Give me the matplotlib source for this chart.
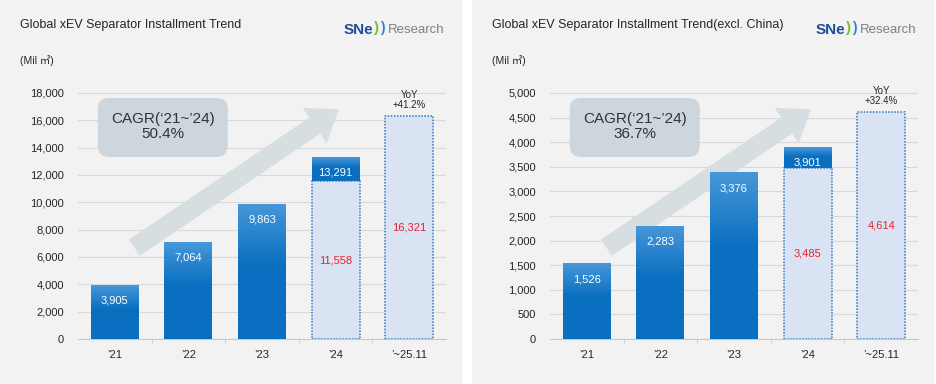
import matplotlib
matplotlib.use("Agg")
import matplotlib.pyplot as plt
import numpy as np
from matplotlib.colors import LinearSegmentedColormap
from matplotlib.patches import FancyArrowPatch, FancyBboxPatch, Rectangle

plt.rcParams["font.family"] = ["Liberation Sans", "Noto Sans CJK KR", "DejaVu Sans"]

categories = ["\u201921", "\u201922", "\u201923", "\u201924", "\u2019~25.11"]

# left panel: global
global_actual = [3905, 7064, 9863, 13291]
global_partial = [None, None, None, 11558, 16321]
global_yoy = "YoY\n+41.2%"
global_cagr = "CAGR(\u201821~\u201924)\n50.4%"
global_ticks = list(range(0, 18001, 2000))

# right panel: excluding China
exch_actual = [1526, 2283, 3376, 3901]
exch_partial = [None, None, None, 3485, 4614]
exch_yoy = "YoY\n+32.4%"
exch_cagr = "CAGR(\u201821~\u201924)\n36.7%"
exch_ticks = list(range(0, 5001, 500))

BLUE_DARK = "#0a6fc0"
BLUE_LIGHT = "#4797d9"
PARTIAL_FILL = "#dae3f4"
PARTIAL_EDGE = "#2f78c2"
RED = "#e3232c"
PANEL_BG = "#f2f2f2"
TEXT = "#262626"

grad_cmap = LinearSegmentedColormap.from_list(
    "bar", [(0.0, BLUE_DARK), (0.55, BLUE_DARK), (1.0, BLUE_LIGHT)])
grad = np.linspace(0, 1, 200).reshape(-1, 1)


def gradient_bar(ax, x, bottom, top, width):
    ax.imshow(grad, extent=[x - width / 2, x + width / 2, bottom, top],
              origin="lower", cmap=grad_cmap, aspect="auto", zorder=3,
              interpolation="bilinear")


def draw_panel(fig, px0, title, actual, partial, yoy, cagr, ticks):
    # panel background
    fig.patches.append(Rectangle((px0 / 936, 0), 461 / 936, 1,
                                 transform=fig.transFigure, color=PANEL_BG,
                                 zorder=-5))
    fig.text((px0 + 20) / 936, 1 - 25 / 384, title, fontsize=9, color=TEXT,
             va="center", ha="left")
    fig.text((px0 + 20) / 936, 1 - 60 / 384, "(Mil \u33a1)", fontsize=7.5,
             color=TEXT, va="center", ha="left")
    # logo
    fig.text((px0 + 344) / 936, 1 - 30 / 384, "SNe", fontsize=11,
             fontweight="bold", color="#1f4f9a", va="center", ha="left")
    fig.text((px0 + 374) / 936, 1 - 28 / 384, ")", fontsize=11,
             fontweight="bold", color="#7cc142", va="center", ha="left")
    fig.text((px0 + 380) / 936, 1 - 28 / 384, ")", fontsize=10,
             fontweight="bold", color="#2e86c8", va="center", ha="left")
    fig.text((px0 + 388) / 936, 1 - 30 / 384, "Research", fontsize=9.5,
             color="#808080", va="center", ha="left")

    ax = fig.add_axes([(px0 + 78) / 936, 45 / 384, 368 / 936, 246 / 384])
    ax.set_facecolor("none")
    ymax = ticks[-1]
    x = np.arange(len(categories))
    w = 0.65

    # partial-year (dotted) bars
    for i, v in enumerate(partial):
        if v is None:
            continue
        ax.bar(x[i], v, width=w, color=PARTIAL_FILL, edgecolor=PARTIAL_EDGE,
               linestyle=(0, (1, 1)), linewidth=1.1, zorder=3)
        ax.text(x[i], v / 2, f"{v:,}", color=RED, fontsize=8,
                ha="center", va="center", zorder=5)

    # full-year gradient bars
    for i, v in enumerate(actual):
        bottom = partial[i] if partial[i] is not None else 0
        gradient_bar(ax, x[i], bottom, v, w)
        ax.annotate(f"{v:,}", (x[i], v), xytext=(0, -11),
                    textcoords="offset points", color="white", fontsize=8,
                    ha="center", va="center", zorder=5)

    last = partial[-1]
    ax.annotate(yoy, (x[-1], last), xytext=(0, 4), textcoords="offset points",
                ha="center", va="bottom", fontsize=7, color=TEXT,
                linespacing=1.1, annotation_clip=False)

    # growth arrow and CAGR box
    arrow = FancyArrowPatch((0.147, 0.365), (0.715, 0.94),
                            transform=ax.transAxes,
                            arrowstyle="simple,head_width=2.2,head_length=1.5,tail_width=1.0",
                            mutation_scale=14, color="#d6dee2", lw=0, zorder=2,
                            clip_on=False)
    ax.add_patch(arrow)
    box = FancyBboxPatch((0.054, 0.74), 0.353, 0.24, transform=ax.transAxes,
                         boxstyle="round,pad=0,rounding_size=0.03",
                         facecolor="#ccd6dc", edgecolor="none", zorder=2,
                         mutation_aspect=1.5, clip_on=False)
    ax.add_patch(box)
    ax.text(0.231, 0.862, cagr, transform=ax.transAxes, ha="center",
            va="center", fontsize=11, color="#333333", linespacing=1.1,
            zorder=4)

    ax.set_xlim(-0.5, len(categories) - 0.5)
    ax.set_ylim(0, ymax)
    ax.set_yticks(ticks)
    ax.set_yticklabels([f"{t:,}" for t in ticks])
    ax.set_xticks(x)
    ax.set_xticklabels(categories)
    ax.set_xticks(np.arange(0.5, len(categories) - 1), minor=True)
    ax.tick_params(axis="y", length=0, pad=10, labelsize=8, colors=TEXT)
    ax.tick_params(axis="x", which="major", length=0, pad=8, labelsize=8,
                   colors=TEXT)
    ax.tick_params(axis="x", which="minor", length=3, color="#c8c8c8",
                   direction="out")
    ax.grid(axis="y", color="#d9d9d9", linewidth=0.8, zorder=0)
    ax.set_axisbelow(True)
    for side in ("top", "right", "left"):
        ax.spines[side].set_visible(False)
    ax.spines["bottom"].set_color("#c8c8c8")
    ax.spines["bottom"].set_linewidth(0.8)
    return ax


fig = plt.figure(figsize=(9.36, 3.84), dpi=100, facecolor="white")
draw_panel(fig, 0, "Global xEV Separator Installment Trend",
           global_actual, global_partial, global_yoy, global_cagr, global_ticks)
draw_panel(fig, 472, "Global xEV Separator Installment Trend(excl. China)",
           exch_actual, exch_partial, exch_yoy, exch_cagr, exch_ticks)
fig.savefig("out.png", dpi=100, facecolor="white")
